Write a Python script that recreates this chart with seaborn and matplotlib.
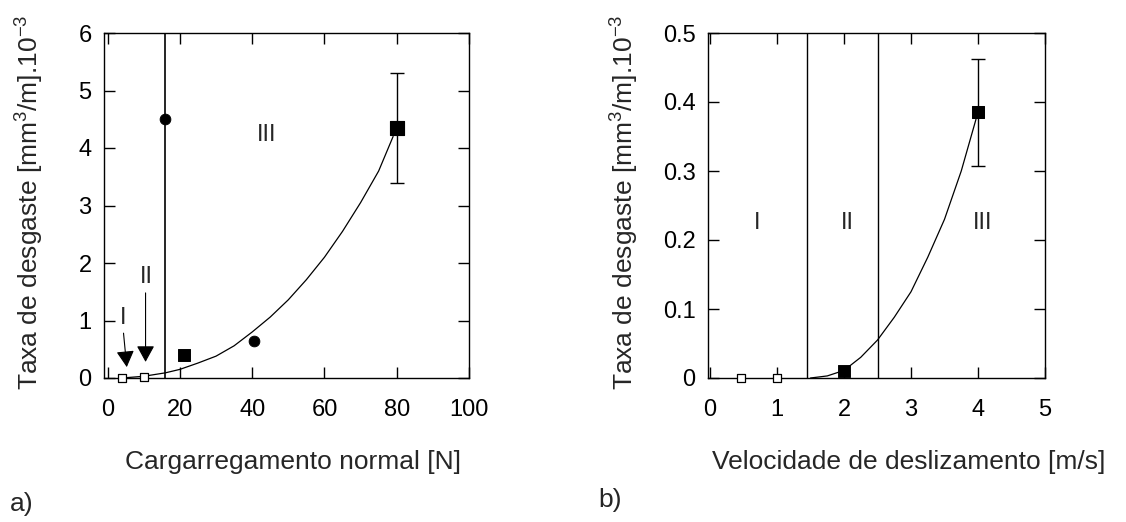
import matplotlib
matplotlib.use("Agg")
import matplotlib.pyplot as plt
import seaborn as sns

# ---- data: panel a) ----
load_open_x = [4, 10]
load_open_y = [0.0, 0.02]
load_sq_x = [21, 80]
load_sq_y = [0.40, 4.35]
load_sq_err = [0.0, 0.96]
load_circ_x = [15.8, 40.5]
load_circ_y = [4.5, 0.65]
load_curve_x = [4, 10, 16, 20, 25, 30, 35, 40, 45, 50, 55, 60, 65, 70, 75, 79]
load_curve_y = [0.0, 0.03, 0.09, 0.15, 0.26, 0.38, 0.56, 0.80, 1.06, 1.36, 1.71, 2.10, 2.55, 3.05, 3.60, 4.20]
load_boundary = [15.8]
load_xticks = [0, 20, 40, 60, 80, 100]
load_yticks = [0, 1, 2, 3, 4, 5, 6]

# ---- data: panel b) ----
vel_open_x = [0.46, 1.0]
vel_open_y = [0.0, 0.0]
vel_sq_x = [2.0, 4.0]
vel_sq_y = [0.010, 0.385]
vel_sq_err = [0.0, 0.078]
vel_curve_x = [1.5, 1.75, 2.0, 2.25, 2.5, 2.75, 3.0, 3.25, 3.5, 3.75, 3.97]
vel_curve_y = [0.0, 0.003, 0.011, 0.030, 0.055, 0.088, 0.125, 0.175, 0.230, 0.300, 0.375]
vel_boundaries = [1.45, 2.5]
vel_xticks = [0, 1, 2, 3, 4, 5]
vel_yticks = [0, 0.1, 0.2, 0.3, 0.4, 0.5]
vel_yticklabels = ["0", "0.1", "0.2", "0.3", "0.4", "0.5"]

sns.set_style("ticks")
plt.rcParams['font.family'] = ['Liberation Sans', 'DejaVu Sans']
plt.rcParams['mathtext.fontset'] = 'custom'
plt.rcParams['mathtext.rm'] = 'Liberation Sans'

fig = plt.figure(figsize=(11.26, 5.22), dpi=100)
axA = fig.add_axes([104 / 1126, 1 - 378 / 522, 365 / 1126, 345 / 522])
axB = fig.add_axes([708 / 1126, 1 - 378 / 522, 337 / 1126, 345 / 522])

ylab = r"Taxa de desgaste [mm$^3$/m].10$^{-3}$"
TICK_FS = 17
LAB_FS = 19


def style(ax):
    for s in ax.spines.values():
        s.set_linewidth(1.0)
        s.set_color('black')
    ax.tick_params(direction='in', top=True, right=True, length=8, width=1,
                   labelsize=TICK_FS, colors='black')
    ax.tick_params(axis='x', pad=15)
    ax.tick_params(axis='y', pad=9)


# ---- panel a ----
ax = axA
sns.lineplot(x=load_curve_x, y=load_curve_y, ax=ax, color='black', lw=0.9)
for b in load_boundary:
    ax.axvline(b, color='black', lw=1.2)
sns.scatterplot(x=load_open_x, y=load_open_y, ax=ax, marker='s', s=34,
                facecolor='white', edgecolor='black', linewidth=0.9, clip_on=False, zorder=5)
sns.scatterplot(x=load_circ_x, y=load_circ_y, ax=ax, marker='o', s=60,
                color='black', edgecolor='black', clip_on=False, zorder=5)
sns.scatterplot(x=load_sq_x[:1], y=load_sq_y[:1], ax=ax, marker='s', s=72,
                color='black', edgecolor='black', zorder=5)
sns.scatterplot(x=load_sq_x[1:], y=load_sq_y[1:], ax=ax, marker='s', s=105,
                color='black', edgecolor='black', zorder=5)
ax.errorbar(load_sq_x[1:], load_sq_y[1:], yerr=load_sq_err[1:], fmt='none',
            ecolor='black', elinewidth=1, capsize=5, capthick=1)
ax.text(44, 4.22, "III", fontsize=TICK_FS, ha='center', va='center')
ax.text(4.2, 1.04, "I", fontsize=TICK_FS, ha='center', va='center')
ax.text(10.8, 1.75, "II", fontsize=TICK_FS, ha='center', va='center')
ax.annotate("", xy=(5.3, 0.19), xytext=(4.4, 0.78),
            arrowprops=dict(arrowstyle='-|>,head_length=1.0,head_width=0.55',
                            color='black', lw=0.8, shrinkA=0, shrinkB=0))
ax.annotate("", xy=(10.5, 0.28), xytext=(10.5, 1.48),
            arrowprops=dict(arrowstyle='-|>,head_length=1.0,head_width=0.55',
                            color='black', lw=0.8, shrinkA=0, shrinkB=0))
ax.set_xlim(-1, 100)
ax.set_ylim(0, 6)
ax.set_xticks(load_xticks)
ax.set_yticks(load_yticks)
ax.set_xlabel("Cargarregamento normal [N]", fontsize=LAB_FS)
ax.set_ylabel(ylab, fontsize=LAB_FS)
style(ax)
ax.xaxis.set_label_coords(0.518, -0.243)
ax.xaxis.label.set_va('center')
ax.yaxis.set_label_coords(-0.208, 0.51)
ax.yaxis.label.set_va('center')

# ---- panel b ----
ax = axB
sns.lineplot(x=vel_curve_x, y=vel_curve_y, ax=ax, color='black', lw=0.9)
for b in vel_boundaries:
    ax.axvline(b, color='black', lw=1.0)
sns.scatterplot(x=vel_open_x, y=vel_open_y, ax=ax, marker='s', s=40,
                facecolor='white', edgecolor='black', linewidth=0.9, clip_on=False, zorder=5)
sns.scatterplot(x=vel_sq_x[:1], y=vel_sq_y[:1], ax=ax, marker='s', s=66,
                color='black', edgecolor='black', clip_on=False, zorder=5)
sns.scatterplot(x=vel_sq_x[1:], y=vel_sq_y[1:], ax=ax, marker='s', s=85,
                color='black', edgecolor='black', zorder=5)
ax.errorbar(vel_sq_x[1:], vel_sq_y[1:], yerr=vel_sq_err[1:], fmt='none',
            ecolor='black', elinewidth=1, capsize=5, capthick=1)
ax.text(0.7, 0.225, "I", fontsize=TICK_FS, ha='center', va='center')
ax.text(2.05, 0.225, "II", fontsize=TICK_FS, ha='center', va='center')
ax.text(4.07, 0.225, "III", fontsize=TICK_FS, ha='center', va='center')
ax.set_xlim(-0.03, 5)
ax.set_ylim(0, 0.5)
ax.set_xticks(vel_xticks)
ax.set_yticks(vel_yticks)
ax.set_yticklabels(vel_yticklabels)
ax.set_xlabel("Velocidade de deslizamento [m/s]", fontsize=LAB_FS)
ax.set_ylabel(ylab, fontsize=LAB_FS)
style(ax)
ax.xaxis.set_label_coords(0.596, -0.243)
ax.xaxis.label.set_va('center')
ax.yaxis.set_label_coords(-0.252, 0.51)
ax.yaxis.label.set_va('center')

fig.text(0.009, 0.035, "a)", fontsize=LAB_FS, va='center')
fig.text(0.531, 0.042, "b)", fontsize=LAB_FS, va='center')

fig.savefig("out.png", dpi=100, facecolor='white')
